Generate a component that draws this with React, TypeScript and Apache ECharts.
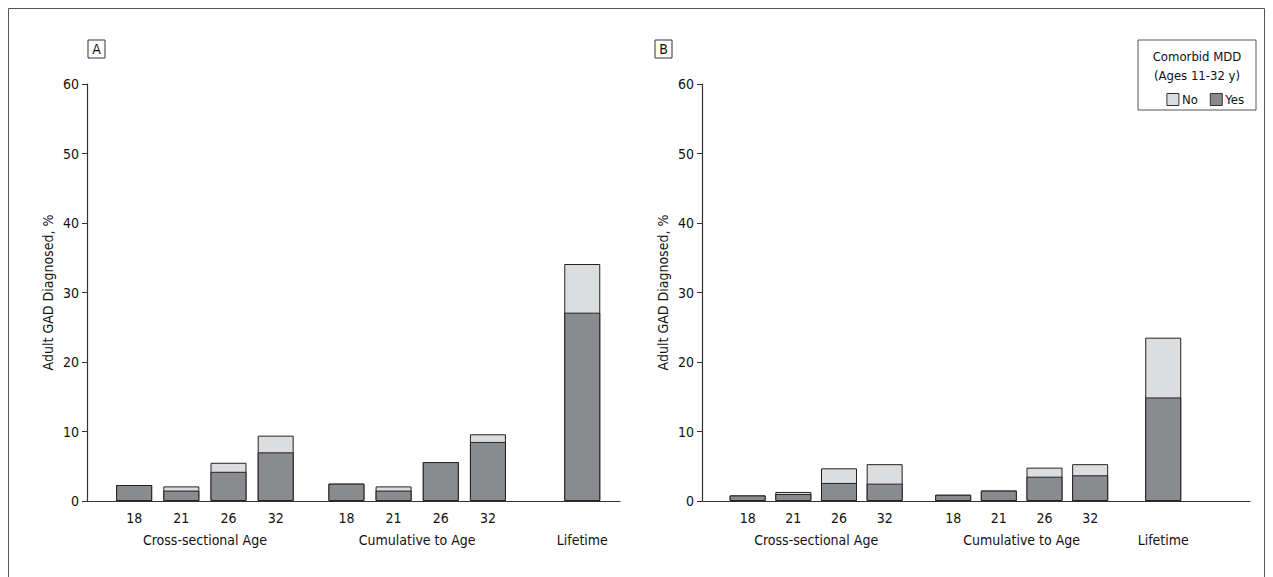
import React, { useRef, useEffect } from "react";
import * as echarts from "echarts";

const ageLabels = ["18", "21", "26", "32", "18", "21", "26", "32", ""];
const groupLabels = ["Cross-sectional Age", "Cumulative to Age", "Lifetime"];

// bar positions on the x value axis
const posA = [1, 2, 3, 4, 5.5, 6.5, 7.5, 8.5, 10.5];
const posB = [1, 2, 3, 4, 5.5, 6.5, 7.5, 8.5, 10.1];
const groupPosA = [2.5, 7, 10.5];
const groupPosB = [2.5, 7, 10.1];

// comorbid MDD "Yes" part and the "No" part stacked on it
const yesA = [2.3, 1.5, 4.2, 7.0, 2.5, 1.5, 5.6, 8.5, 27.1];
const noA = [0, 0.6, 1.3, 2.4, 0, 0.6, 0, 1.1, 7.0];
const yesB = [0.8, 1.0, 2.6, 2.5, 0.9, 1.5, 3.5, 3.7, 14.9];
const noB = [0, 0.3, 2.1, 2.8, 0, 0, 1.3, 1.6, 8.6];

const FONT = "'Liberation Sans Narrow', 'DejaVu Sans Condensed', 'Liberation Sans', sans-serif";
const DARK = "#8a8b8f";
const LIGHT = "#dcdddf";

const App = () => {
  const chartRef = useRef<HTMLDivElement>(null);

  useEffect(() => {
    const chart = echarts.init(chartRef.current, null, { renderer: "svg" });
    const panels = [
      { left: 79, right: 645, pos: posA, gpos: groupPosA, max: 11.3, yes: yesA, no: noA },
      { left: 694, right: 15, pos: posB, gpos: groupPosB, max: 12, yes: yesB, no: noB },
    ];
    const grid: any[] = [];
    const xAxis: any[] = [];
    const yAxis: any[] = [];
    const series: any[] = [];
    panels.forEach((p, i) => {
      grid.push({ left: p.left, right: p.right, top: 76, bottom: 76 });
      const ageMap: Record<string, string> = {};
      p.pos.forEach((v, k) => (ageMap[v.toFixed(1)] = ageLabels[k]));
      const grpMap: Record<string, string> = {};
      p.gpos.forEach((v, k) => (grpMap[v.toFixed(1)] = groupLabels[k]));
      xAxis.push({
        type: "value", gridIndex: i, min: 0, max: p.max, splitLine: { show: false },
        axisLine: { show: true, lineStyle: { color: "#333", width: 1.2 } },
        axisTick: { show: false },
        axisLabel: {
          customValues: p.pos.slice(0, 8), color: "#111", fontFamily: FONT, fontSize: 14, margin: 10,
          formatter: (v: number) => ageMap[v.toFixed(1)] ?? "",
        },
      });
      xAxis.push({
        type: "value", gridIndex: i, min: 0, max: p.max, position: "bottom", offset: 22,
        splitLine: { show: false }, axisLine: { show: false }, axisTick: { show: false },
        axisLabel: {
          customValues: p.gpos, color: "#111", fontFamily: FONT, fontSize: 14, margin: 10,
          formatter: (v: number) => grpMap[v.toFixed(1)] ?? "",
        },
      });
      yAxis.push({
        type: "value", gridIndex: i, min: 0, max: 60, interval: 10,
        name: "Adult GAD Diagnosed, %", nameLocation: "middle", nameGap: 32,
        nameTextStyle: { color: "#111", fontFamily: FONT, fontSize: 14 },
        splitLine: { show: false },
        axisLine: { show: true, lineStyle: { color: "#333", width: 1.2 } },
        axisTick: { show: true, length: 5, lineStyle: { color: "#333" } },
        axisLabel: { color: "#111", fontFamily: FONT, fontSize: 14, margin: 8 },
      });
      const common = {
        type: "bar", xAxisIndex: i * 2, yAxisIndex: i, barWidth: 36, barGap: "-100%",
      };
      // total (No on top of Yes) drawn behind, Yes drawn over it
      series.push({
        ...common, name: "No",
        data: p.yes.map((v, k) => [p.pos[k], +(v + p.no[k]).toFixed(2)]),
        itemStyle: { color: LIGHT, borderColor: "#222", borderWidth: 1 },
      });
      series.push({
        ...common, name: "Yes",
        data: p.yes.map((v, k) => [p.pos[k], v]),
        itemStyle: { color: DARK, borderColor: "#222", borderWidth: 1 },
      });
    });

    chart.setOption({
      animation: false,
      grid, xAxis, yAxis, series,
      legend: {
        data: ["No", "Yes"], right: 16, top: 80, itemWidth: 12, itemHeight: 12, itemGap: 12,
        textStyle: { color: "#111", fontFamily: FONT, fontSize: 13, padding: [0, 0, 0, -2] },
        icon: "rect", selectedMode: false,
        itemStyle: { borderColor: "#333", borderWidth: 1 },
      },
      graphic: [
        { type: "rect", shape: { x: 0.5, y: 0.5, width: 1256, height: 570 }, style: { fill: "none", stroke: "#555", lineWidth: 1 } },
        { type: "rect", shape: { x: 80, y: 32, width: 17, height: 18 }, style: { fill: "#fff", stroke: "#333", lineWidth: 1 } },
        { type: "text", x: 88.5, y: 41, style: { text: "A", align: "center", verticalAlign: "middle", font: `14px ${FONT}`, fill: "#111" } },
        { type: "rect", shape: { x: 647, y: 32, width: 17, height: 18 }, style: { fill: "#fff", stroke: "#333", lineWidth: 1 } },
        { type: "text", x: 655.5, y: 41, style: { text: "B", align: "center", verticalAlign: "middle", font: `14px ${FONT}`, fill: "#111" } },
        { type: "rect", shape: { x: 1130, y: 32, width: 118, height: 70 }, style: { fill: "#fff", stroke: "#555", lineWidth: 1 }, z: -1 },
        { type: "text", x: 1189, y: 48, style: { text: "Comorbid MDD", align: "center", verticalAlign: "middle", font: `13px ${FONT}`, fill: "#111" } },
        { type: "text", x: 1189, y: 67, style: { text: "(Ages 11-32 y)", align: "center", verticalAlign: "middle", font: `13px ${FONT}`, fill: "#111" } },
      ],
    });
    return () => chart.dispose();
  }, []);

  return <div ref={chartRef} style={{ width: 1257, height: 569 }} />;
};

export default App;
